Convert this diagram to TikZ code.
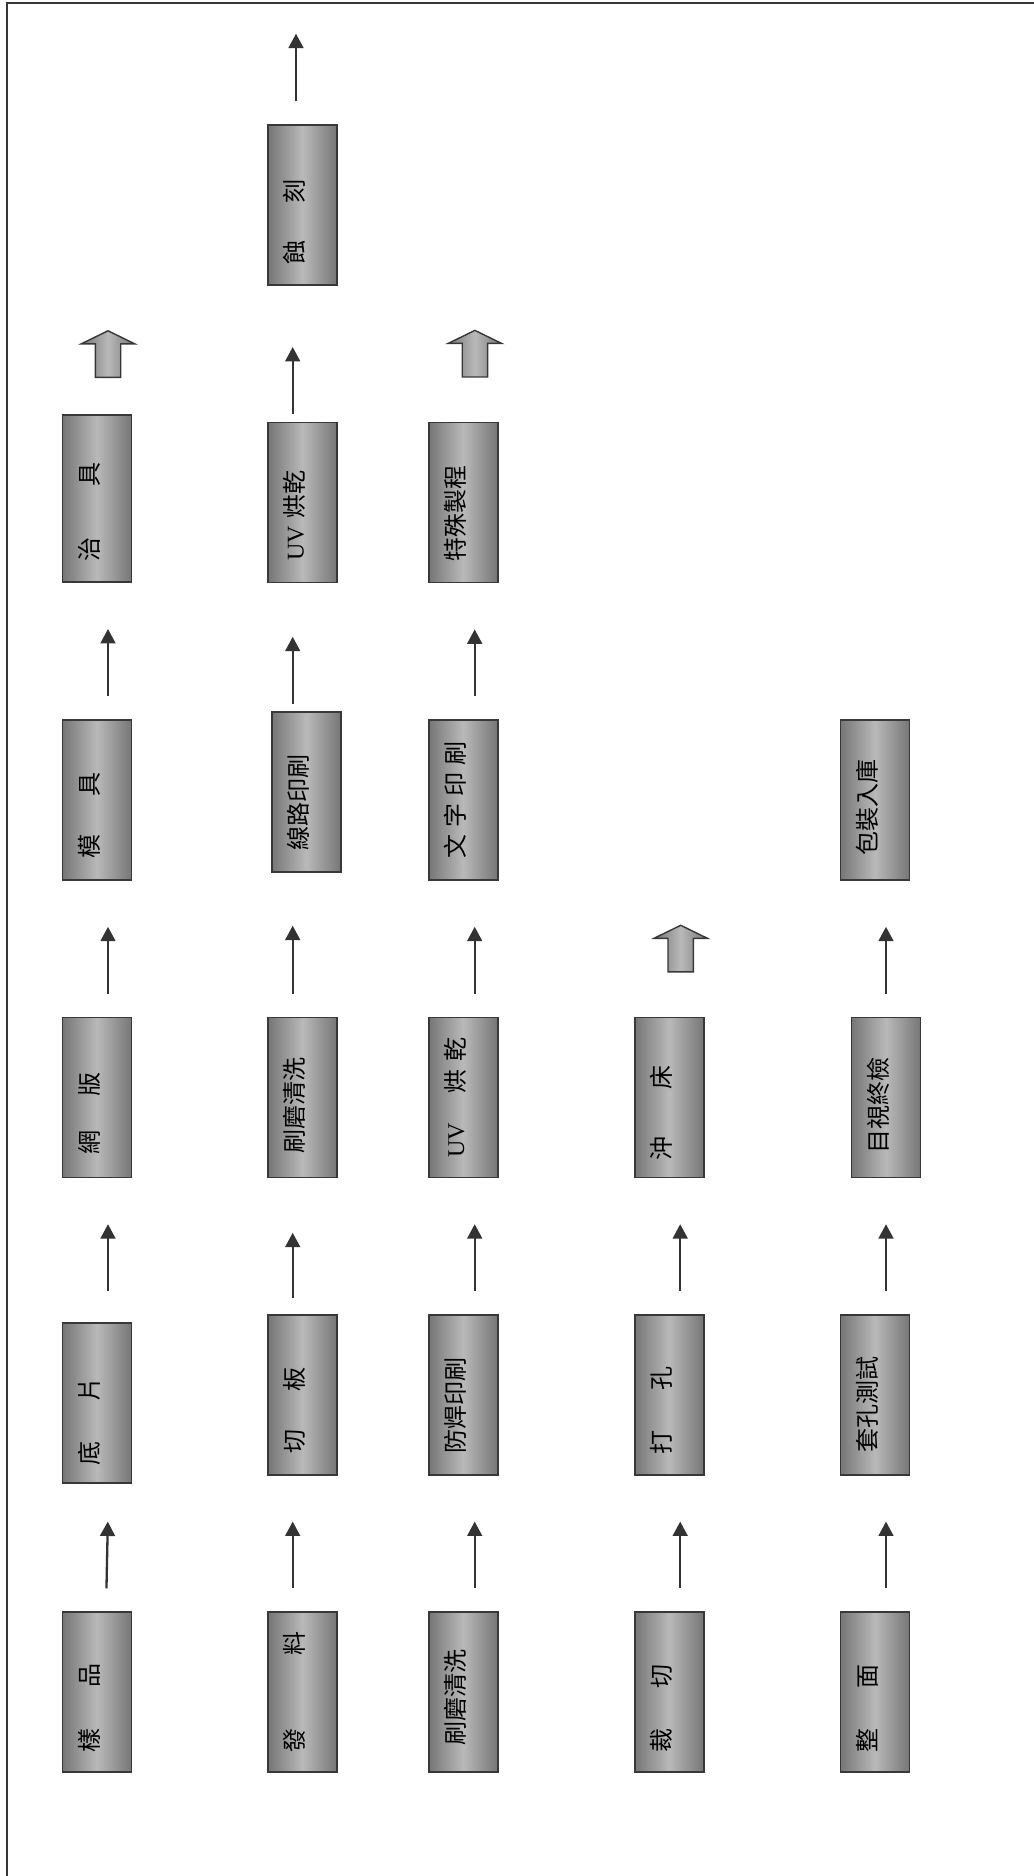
\documentclass[tikz,border=0pt]{standalone}
\usepackage{fontspec}
\setmainfont{Liberation Serif}
\newfontfamily\cjk{Noto Sans CJK TC}
\usepackage{graphicx}
\usetikzlibrary{positioning,arrows.meta,shapes.arrows}

\definecolor{edgegray}{HTML}{383838}
\definecolor{shadeout}{HTML}{767676}
\definecolor{shadein}{HTML}{B9B9B9}
\definecolor{linegray}{HTML}{333333}

\newcommand{\vtxt}[2][0pt]{\rotatebox{90}{\raisebox{0pt}[6.5pt][5.5pt]{\cjk #2\hspace{#1}}}}

\tikzset{
  stepbox/.style={draw=edgegray, line width=0.8pt, left color=shadeout, right color=shadeout, middle color=shadein, minimum width=34.5pt, minimum height=80pt, inner sep=0pt, font=\fontsize{12pt}{14pt}\selectfont},
  flow/.style={draw=linegray, line width=1.15pt, -{Triangle[length=7.2pt,width=7.4pt]}, shorten <=11.5pt, shorten >=23pt},
  fatarrow/.style={single arrow, draw=edgegray, line width=0.7pt, left color=shadeout, right color=shadeout, middle color=shadein, shape border rotate=90, minimum height=23.3pt, minimum width=25.85pt, single arrow head extend=7pt, single arrow tip angle=128, inner sep=6pt},
  frameline/.style={draw=edgegray, line width=0.85pt}
}

\begin{document}
\begin{tikzpicture}[x=0.5pt, y=0.5pt, node distance=148.7pt]
\useasboundingbox (0,0) rectangle (1034,1876);
\draw[frameline] (7.3,0) -- (7.3,1873.3) -- (1034,1873.3);

\node[stepbox] (yp) at (97,183.8) {\vtxt[16pt]{樣\hspace{20.5pt}品}};
\node[stepbox, above of=yp, yshift=-4pt] (dp) {\vtxt[19pt]{底\hspace{20pt}片}};
\node[stepbox, above of=dp, yshift=4pt] (wb) {\vtxt[16pt]{網\hspace{17pt}版}};
\node[stepbox, above of=wb] (mj) {\vtxt[16pt]{模\hspace{19pt}具}};
\node[stepbox, above of=mj, yshift=2pt, minimum height=83.6pt] (zj) {\vtxt[13pt]{治\hspace{25.5pt}具}};
\node[fatarrow] (zjout) at ([xshift=5.5pt,yshift=28.5pt]zj.north) {};

\node[stepbox] (fl) at (302.7,183.8) {\vtxt{發\hspace{36.5pt}料}};
\node[stepbox, above of=fl] (qb) {\vtxt[16pt]{切\hspace{19pt}板}};
\node[stepbox, above of=qb] (sm2) {\vtxt[8pt]{刷磨清洗}};
\node[stepbox, above of=sm2, xshift=1.75pt, yshift=3.85pt] (xl) {\vtxt[10pt]{線路印刷}};
\node[stepbox, above of=xl, xshift=-1.75pt, yshift=-3.85pt] (uv2) {\vtxt[13pt]{{\rmfamily UV}\hspace{4pt}烘乾}};
\node[stepbox, above of=uv2] (ks) {\vtxt[17pt]{蝕\hspace{18.5pt}刻}};
\coordinate (ksout) at ([xshift=-3.35pt,yshift=45.35pt]ks.north);

\node[stepbox] (sm1) at (463.2,183.8) {\vtxt[5pt]{刷磨清洗}};
\node[stepbox, above of=sm1] (fh) {\vtxt[11pt]{防焊印刷}};
\node[stepbox, above of=fh] (uv3) {\vtxt{{\rmfamily UV}\hspace{15pt}烘\hspace{4pt}乾}};
\node[stepbox, above of=uv3] (wz) {\vtxt{文\hspace{3.5pt}字\hspace{3.5pt}印\hspace{3.5pt}刷}};
\node[stepbox, above of=wz] (ts) {\vtxt[11pt]{特殊製程}};
\node[fatarrow] (tsout) at ([xshift=5.85pt,yshift=32.5pt]ts.north) {};

\node[stepbox] (cq) at (669.2,183.8) {\vtxt[16pt]{裁\hspace{20pt}切}};
\node[stepbox, above of=cq] (dk) {\vtxt[16pt]{打\hspace{20pt}孔}};
\node[stepbox, above of=dk] (cc) {\vtxt[16pt]{沖\hspace{23.5pt}床}};
\node[fatarrow] (ccout) at ([xshift=5.75pt,yshift=32.45pt]cc.north) {};

\node[stepbox] (zm) at (875,183.8) {\vtxt[16pt]{整\hspace{20pt}面}};
\node[stepbox, above of=zm] (tk) {\vtxt[10pt]{套孔測試}};
\node[stepbox, above of=tk, xshift=5.5pt] (mt) {\vtxt[8pt]{目視終檢}};
\node[stepbox, above of=mt, xshift=-5.5pt] (bz) {\vtxt[8pt]{包裝入庫}};

\draw[flow, shorten >=19pt] ([xshift=4.5pt]yp.north) -- ([xshift=5.8pt]dp.south);
\draw[flow, shorten <=15.3pt] ([xshift=5.5pt]dp.north) -- ([xshift=5.5pt]wb.south);
\draw[flow] ([xshift=5.5pt]wb.north) -- ([xshift=5.5pt]mj.south);
\draw[flow] ([xshift=5.5pt]mj.north) -- ([xshift=5.5pt]zj.south);

\draw[flow] ([xshift=-5pt]fl.north) -- ([xshift=-5pt]qb.south);
\draw[flow, shorten <=7.75pt, shorten >=27.3pt] ([xshift=-5pt]qb.north) -- ([xshift=-5pt]sm2.south);
\draw[flow, shorten >=26.3pt] ([xshift=-5pt]sm2.north) -- ([xshift=-6.75pt]xl.south);
\draw[flow, shorten <=3.7pt, shorten >=26.7pt] ([xshift=-6.75pt]xl.north) -- ([xshift=-5pt]uv2.south);
\draw[flow, shorten <=3.85pt, shorten >=30.5pt] ([xshift=-5pt]uv2.north) -- ([xshift=-5pt]ks.south);
\draw[flow, shorten >=0pt] ([xshift=-3.35pt]ks.north) -- (ksout);

\draw[flow] ([xshift=5.75pt]sm1.north) -- ([xshift=5.75pt]fh.south);
\draw[flow] ([xshift=5.75pt]fh.north) -- ([xshift=5.75pt]uv3.south);
\draw[flow] ([xshift=5.75pt]uv3.north) -- ([xshift=5.75pt]wz.south);
\draw[flow] ([xshift=5.75pt]wz.north) -- ([xshift=5.75pt]ts.south);

\draw[flow] ([xshift=5.5pt]cq.north) -- ([xshift=5.5pt]dk.south);
\draw[flow] ([xshift=5.5pt]dk.north) -- ([xshift=5.5pt]cc.south);

\draw[flow] ([xshift=5.5pt]zm.north) -- ([xshift=5.5pt]tk.south);
\draw[flow] ([xshift=5.5pt]tk.north) -- (mt.south);
\draw[flow] (mt.north) -- ([xshift=5.5pt]bz.south);
\end{tikzpicture}
\end{document}
